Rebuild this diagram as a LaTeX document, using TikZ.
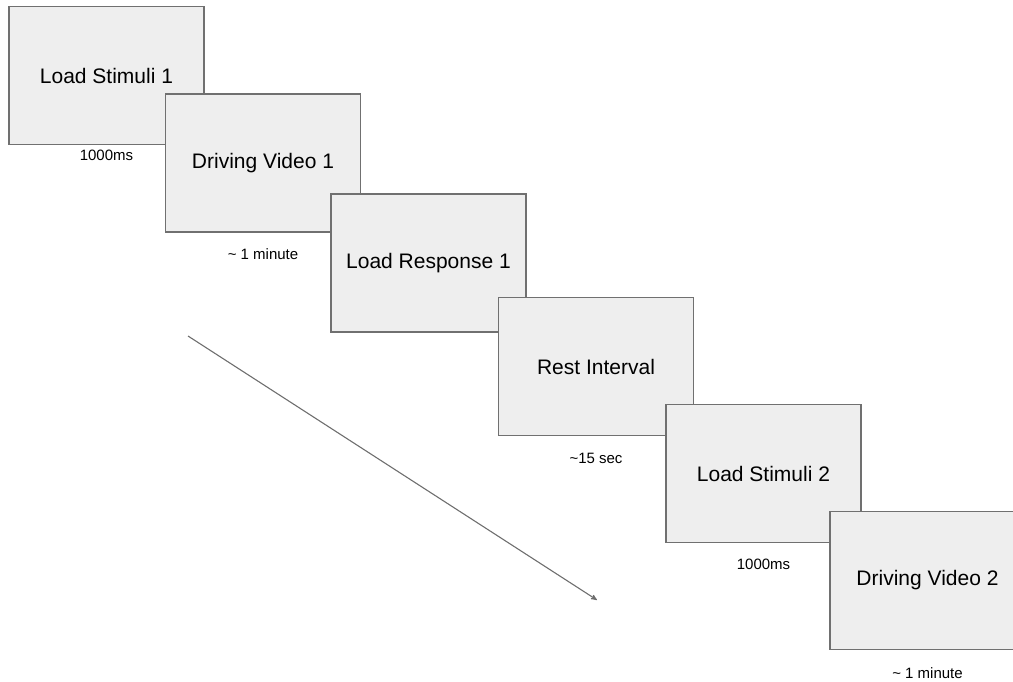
\documentclass[tikz,border=0pt]{standalone}
\usepackage{fontspec}
\setmainfont{Liberation Sans}
\usepackage{tikz}
\usetikzlibrary{arrows}
\definecolor{screenfill}{HTML}{EEEEEE}
\definecolor{boxgray}{HTML}{707070}
\definecolor{linegray}{HTML}{6E6E6E}
\tikzstyle{screen} = [rectangle, draw=boxgray, fill=screenfill, text=black,
minimum width=195pt, minimum height=138pt, node distance=165pt, line width=1.1pt,
font=\fontsize{21}{25}\selectfont]
\tikzstyle{note} = [text=black, node distance=91pt, font=\fontsize{15}{18}\selectfont]
\tikzstyle{line} = [draw=linegray, -{stealth'}, line width=1.1pt]

\begin{document}
\begin{tikzpicture}[x=1pt, y=-1pt]
\useasboundingbox (0,0) rectangle (1013,682);
% Place screens
	\node [screen] at (106.5,75.5)					(stim1) {Load Stimuli 1};
	\node [screen, right of=stim1, xshift=-8.5pt, yshift=-87.5pt] (video1) {Driving Video 1};
	\node [screen, right of=video1, xshift=0.5pt, yshift=-100pt] (resp1) {Load Response 1};
	\node [screen, right of=resp1, xshift=2.5pt, yshift=-103.5pt] (rest) {Rest Interval};
	\node [screen, right of=rest, xshift=2.5pt, yshift=-107pt] (stim2) {Load Stimuli 2};
	\node [screen, right of=stim2, xshift=-1pt, yshift=-107pt] (video2) {Driving Video 2};

% Durations
	\node [note, below of=stim1, yshift=11pt] (t1) {1000ms};
	\node [note, below of=video1] (t2) {\textasciitilde{} 1 minute};
	\node [note, below of=rest, yshift=-0.5pt] (t4) {\textasciitilde15 sec};
	\node [note, below of=stim2, yshift=0.5pt] (t5) {1000ms};
	\node [note, below of=video2, yshift=-2pt] (t6) {\textasciitilde{} 1 minute};

% Time arrow
	\coordinate (tail) at (188,336);
	\coordinate (head) at (597,600);
	\path [line] (tail) -- (head);

\end{tikzpicture}
\end{document}
